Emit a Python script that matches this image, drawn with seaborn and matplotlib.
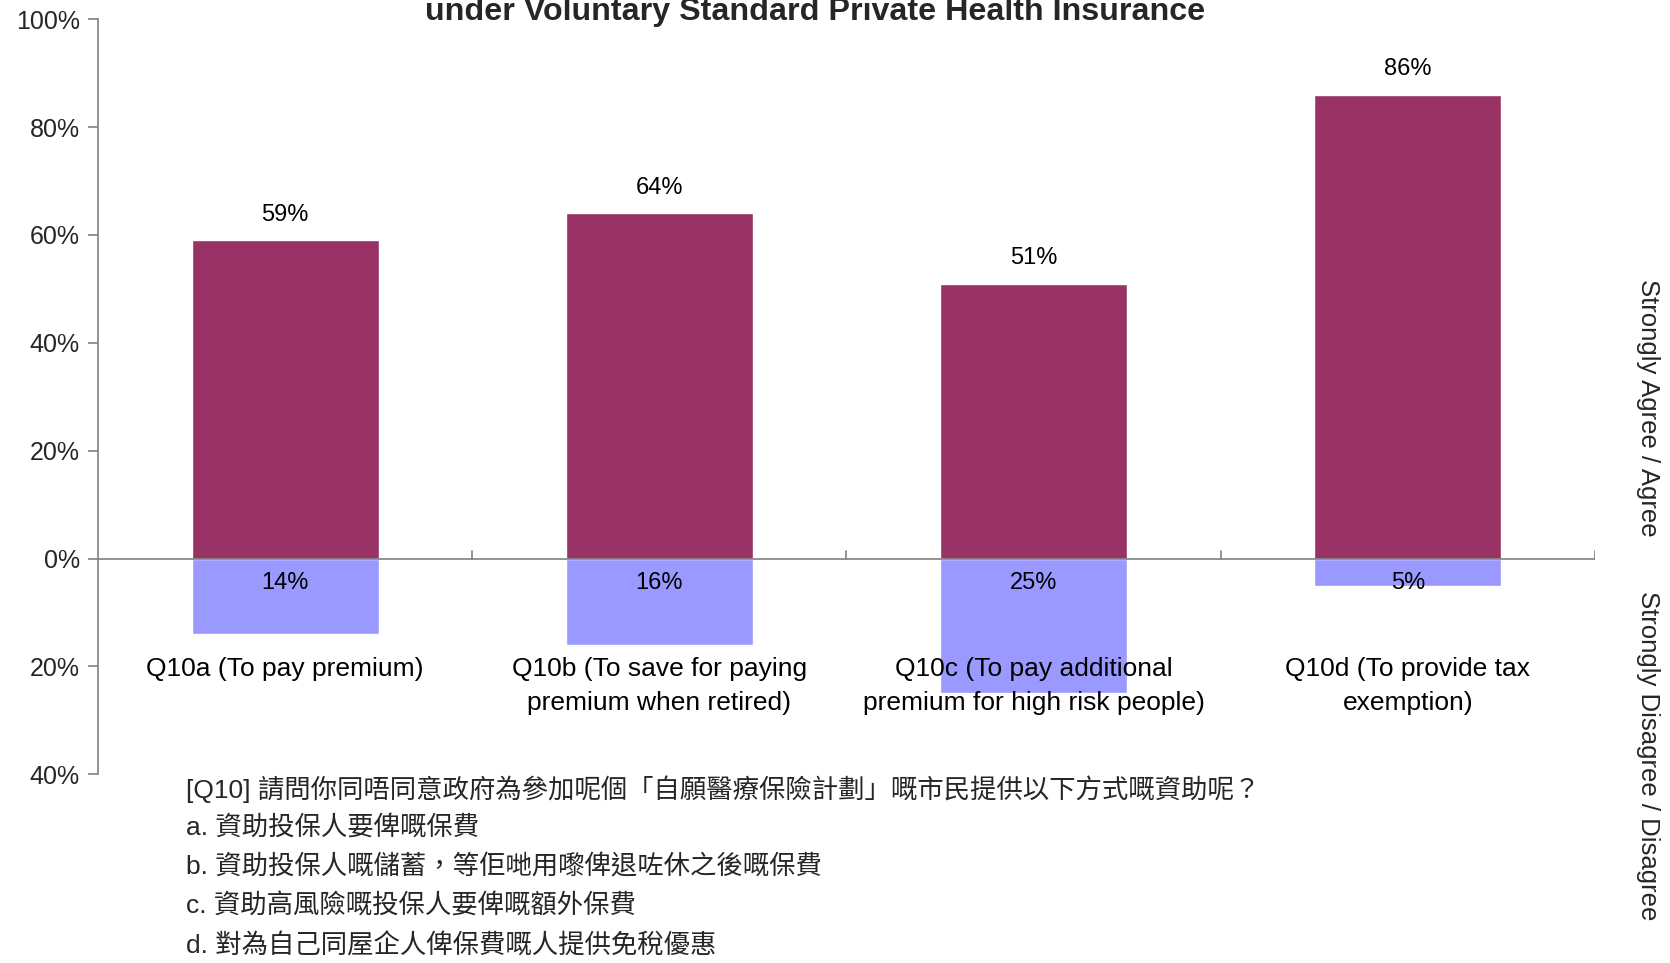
# Voluntary Standard Private Health Insurance - Q10 agree / disagree chart

import pandas as pd
import matplotlib.pyplot as plt
import seaborn as sns

# data
categorias = ['Q10a (To pay premium)',
              'Q10b (To save for paying\npremium when retired)',
              'Q10c (To pay additional\npremium for high risk people)',
              'Q10d (To provide tax\nexemption)']
concorda = [59, 64, 51, 86]
discorda = [14, 16, 25, 5]
y_ticks = [-40, -20, 0, 20, 40, 60, 80, 100]
linhas_nota = [
    '[Q10] 請問你同唔同意政府為參加呢個「自願醫療保險計劃」嘅市民提供以下方式嘅資助呢？',
    'a. 資助投保人要俾嘅保費',
    'b. 資助投保人嘅儲蓄，等佢哋用嚟俾退咗休之後嘅保費',
    'c. 資助高風險嘅投保人要俾嘅額外保費',
    'd. 對為自己同屋企人俾保費嘅人提供免稅優惠',
]

df = pd.DataFrame({'pos': range(4), 'agree': concorda,
                   'disagree': [-v for v in discorda]})

sns.set_theme(style='white')
plt.rcParams['font.family'] = ['Liberation Sans', 'Noto Sans CJK TC', 'DejaVu Sans']

fig = plt.figure(figsize=(16.7, 9.63), dpi=100)
ax = fig.add_axes([0.0587, 0.196, 0.8963, 0.784])

sns.barplot(data=df, x='pos', y='agree', color='#993366', width=0.5,
            saturation=1, ax=ax)
sns.barplot(data=df, x='pos', y='disagree', color='#9999FF', width=0.5,
            saturation=1, ax=ax)

ax.set_xlim(-0.5, 3.5)
ax.set_ylim(-40, 100)
ax.set_yticks(y_ticks)
ax.set_yticklabels([f'{abs(v)}%' for v in y_ticks], fontsize=18)
ax.set_xticks([])
ax.set_xlabel('')
ax.set_ylabel('')

for s in ['top', 'right', 'bottom']:
    ax.spines[s].set_visible(False)
ax.spines['left'].set_color('#808080')
ax.spines['left'].set_linewidth(1.2)
ax.tick_params(axis='y', direction='out', length=7, width=1.2,
               color='#808080', left=True, pad=6)

# linha do zero e marcas entre categorias
ax.axhline(0, color='#808080', linewidth=1.2, zorder=3)
for b in [0.5, 1.5, 2.5, 3.5]:
    ax.plot([b, b], [0, 1.4], color='#808080', linewidth=1.2, zorder=3)

# rotulos
for i in range(4):
    ax.text(i, concorda[i] + 4.7, f'{concorda[i]}%', ha='center', va='center',
            fontsize=17, color='black')
    ax.text(i, -4.5, f'{discorda[i]}%', ha='center', va='center',
            fontsize=17, color='black', zorder=4)
    ax.text(i, -18.3, categorias[i], ha='center', va='top', fontsize=19,
            linespacing=1.5, color='black', zorder=4)

fig.text(0.488, 1 - 20 / 963, 'under Voluntary Standard Private Health Insurance',
         ha='center', va='baseline', fontsize=23.2, fontweight='bold')

fig.text(0.987, 0.576, 'Strongly Agree / Agree', rotation=-90, ha='center',
         va='center', fontsize=18.5)
fig.text(0.987, 0.215, 'Strongly Disagree / Disagree', rotation=-90,
         ha='center', va='center', fontsize=18.5)

ys = [0.181, 0.141, 0.0997, 0.059, 0.0177]
for linha, y in zip(linhas_nota, ys):
    fig.text(0.1115, y, linha, ha='left', va='center', fontsize=19)

fig.savefig('out.png', dpi=100)
